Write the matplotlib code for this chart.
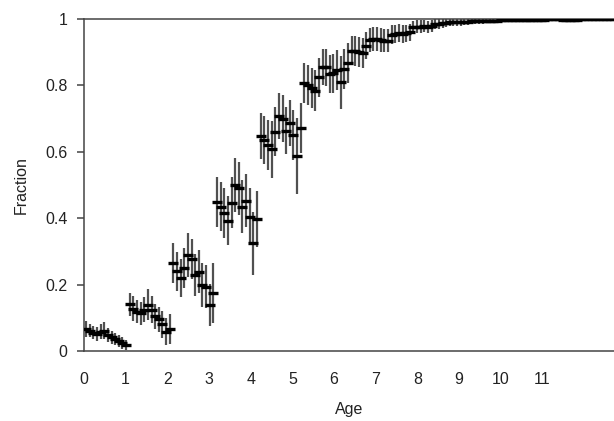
import numpy as np
import matplotlib
matplotlib.use("Agg")
import matplotlib.pyplot as plt

plt.rcParams['font.family'] = ['Liberation Sans', 'DejaVu Sans']

# Ages: evenly spaced samples (start and spacing)
age_start = 0.05
age_step = 0.0873

fraction = [
    # age group 0
    0.066, 0.061, 0.055, 0.051, 0.058, 0.061, 0.048, 0.041, 0.035, 0.030, 0.025, 0.018,
    # age group 1
    0.141, 0.128, 0.118, 0.113, 0.124, 0.139, 0.125, 0.105, 0.095, 0.080, 0.058, 0.065,
    # age group 2
    0.266, 0.240, 0.220, 0.249, 0.289, 0.276, 0.229, 0.239, 0.199, 0.194, 0.139, 0.174,
    # age group 3
    0.450, 0.435, 0.415, 0.393, 0.447, 0.500, 0.490, 0.435, 0.453, 0.405, 0.324, 0.397,
    # age group 4
    0.648, 0.636, 0.620, 0.607, 0.661, 0.708, 0.700, 0.664, 0.686, 0.650, 0.587, 0.671,
    # age group 5
    0.806, 0.800, 0.792, 0.784, 0.824, 0.856, 0.854, 0.834, 0.836, 0.846, 0.809, 0.849,
    # age group 6
    0.867, 0.905, 0.903, 0.900, 0.897, 0.920, 0.937, 0.940, 0.940, 0.937, 0.935, 0.935,
    # age group 7
    0.953, 0.955, 0.957, 0.955, 0.957, 0.960, 0.975, 0.977, 0.977, 0.978, 0.977, 0.978,
    # age group 8
    0.985, 0.985, 0.987, 0.988, 0.990, 0.990, 0.990, 0.991, 0.992, 0.992, 0.993, 0.993,
    # age group 9
    0.993, 0.994, 0.994, 0.995, 0.995, 0.995, 0.996, 0.996, 0.996, 0.997, 0.997, 0.997,
    # age group 10
    0.997, 0.997, 0.998, 0.998, 0.998, 0.998, 0.998, 0.999, 0.999, 0.999, 0.999, 0.998,
    # age group 11
    0.998, 0.998, 0.998, 0.998, 0.999, 0.999, 0.999, 0.999, 0.999, 0.999, 0.999, 0.999,
    0.999, 0.999,
]

error = [
    0.025, 0.020, 0.020, 0.020, 0.022, 0.025, 0.020, 0.020, 0.018, 0.018, 0.018, 0.016,
    0.035, 0.037, 0.035, 0.035, 0.038, 0.047, 0.040, 0.038, 0.038, 0.040, 0.040, 0.045,
    0.060, 0.058, 0.058, 0.060, 0.065, 0.060, 0.062, 0.065, 0.065, 0.065, 0.063, 0.090,
    0.075, 0.075, 0.075, 0.075, 0.078, 0.080, 0.080, 0.080, 0.080, 0.085, 0.095, 0.085,
    0.070, 0.072, 0.075, 0.085, 0.075, 0.070, 0.070, 0.072, 0.070, 0.075, 0.115, 0.075,
    0.060, 0.060, 0.060, 0.062, 0.060, 0.055, 0.055, 0.058, 0.058, 0.060, 0.080, 0.060,
    0.060, 0.045, 0.045, 0.045, 0.045, 0.040, 0.035, 0.035, 0.035, 0.035, 0.035, 0.035,
    0.028, 0.027, 0.027, 0.027, 0.025, 0.025, 0.020, 0.020, 0.020, 0.018, 0.018, 0.018,
    0.015, 0.015, 0.014, 0.013, 0.012, 0.012, 0.012, 0.011, 0.010, 0.010, 0.009, 0.009,
    0.008, 0.008, 0.007, 0.007, 0.006, 0.006, 0.006, 0.005, 0.005, 0.005, 0.005, 0.005,
    0.004, 0.004, 0.004, 0.004, 0.003, 0.003, 0.003, 0.003, 0.003, 0.003, 0.003, 0.003,
    0.003, 0.003, 0.003, 0.003, 0.002, 0.002, 0.002, 0.002, 0.002, 0.002, 0.002, 0.002,
    0.002, 0.002,
]

x_ticks = [0, 1, 2, 3, 4, 5, 6, 7, 8, 9, 10, 11]
y_ticks = [0, 0.2, 0.4, 0.6, 0.8, 1]
y_tick_labels = ["0", "0.2", "0.4", "0.6", "0.8", "1"]

ages = age_start + age_step * np.arange(len(fraction))

fig = plt.figure(figsize=(6.14, 4.21), dpi=100)
ax = fig.add_axes([84 / 614, 1 - 351 / 421, 530 / 614, (351 - 19) / 421])

ax.errorbar(ages, fraction, yerr=error, fmt='none', ecolor='#505050',
            elinewidth=1.6, capsize=0, zorder=2)
ax.plot(ages, fraction, linestyle='none', marker='_', markersize=6.5,
        markeredgewidth=2.4, color='black', zorder=3)

ax.set_xlim(0, 12.72)
ax.set_ylim(0, 1)
ax.set_xticks(x_ticks)
ax.set_yticks(y_ticks)
ax.set_yticklabels(y_tick_labels)

for s in ['left', 'bottom', 'top']:
    ax.spines[s].set_color('#444444')
    ax.spines[s].set_linewidth(1.1)
ax.spines['right'].set_visible(False)

ax.tick_params(axis='x', length=0, pad=15, labelsize=11.5, colors='#222222')
ax.tick_params(axis='y', direction='out', length=5, width=1.1, pad=7,
               labelsize=11.5, colors='#222222', color='#444444')

ax.set_xlabel("Age", fontsize=11.5, color='#222222', labelpad=11)
ax.set_ylabel("Fraction", fontsize=11.5, color='#222222', labelpad=12)

fig.savefig("out.png", dpi=100)
